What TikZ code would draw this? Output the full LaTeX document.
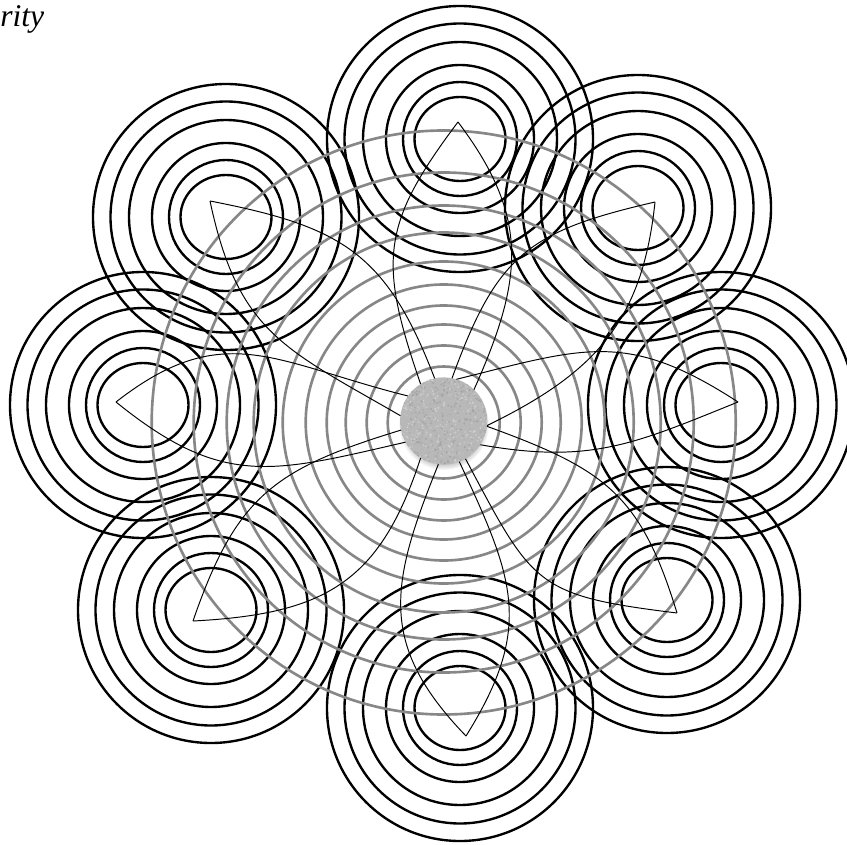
\documentclass[tikz,border=0pt]{standalone}
\usepackage{fontspec}
\setmainfont{Liberation Serif}
\usetikzlibrary{shadows,fadings}

\begin{document}
\begin{tikzpicture}[x=0.02cm,y=0.02cm,
  grp/.style={line width=1.35pt},
  ring/.style={black!47,line width=1.5pt},
  petal/.style={line width=0.55pt}]
\useasboundingbox (0,0) rectangle (847,-844);
% Title, cut off at the left
\node[anchor=base west,inner sep=0,font=\itshape\fontsize{18}{21}\selectfont] (title) at (0,-27) {rity};
% Groups of circles round each tip
\foreach \g/\x/\y in {g1/460/139, g2/638/208, g3/721/405, g4/667/600,
                      g5/460/708, g6/211/610, g7/143/405, g8/226/217} {
  \coordinate (\g) at (\x,-\y);
  \draw[grp] (\g) ellipse (45.5 and 42);
  \foreach \r in {57,74,97,115.5,133} \draw[grp] (\g) circle (\r);
}
% Grey rings round the centre
\coordinate (c) at (443.7,-422.5);
\foreach \r in {56,77,98,117,138,161,190,217,250,292} \draw[ring] (c) circle (\r);
% Tips
\coordinate (t1) at (458,-122);
\coordinate (t2) at (655,-202);
\coordinate (t3) at (738,-402);
\coordinate (t4) at (677,-613);
\coordinate (t5) at (466,-736);
\coordinate (t6) at (193,-621);
\coordinate (t7) at (116,-402);
\coordinate (t8) at (210,-201);
% Centre disc
\node[circle,inner sep=0,outer sep=0,minimum size=1.744cm,fill=black!28,
  circular drop shadow={shadow xshift=0pt,shadow yshift=-2pt,shadow scale=1.04,opacity=.45}]
  (disc) at (443.7,-421) {};
% Speckle on the disc
\pgfmathsetseed{7}
\begin{scope}
  \clip (disc.center) circle (43.6);
  \foreach \i in {1,...,700} {
    \pgfmathsetmacro{\ang}{rnd*360}
    \pgfmathsetmacro{\dd}{sqrt(rnd)*44}
    \pgfmathsetmacro{\tone}{int(18+rnd*20)}
    \fill[black!\tone] (disc.center) ++(\ang:\dd) circle (1.1);
  }
\end{scope}
% Petals
\draw[petal] (disc.122) to[out=109,in=233,looseness=1.25] (t1);
\draw[petal] (disc.46) to[out=66,in=307,looseness=1.15] (t1);
\draw[petal] (disc.79) to[out=70,in=193,looseness=1.25] (t2);
\draw[petal] (disc.-6) to[out=26,in=264,looseness=1.1] (t2);
\draw[petal] (disc.73) to[out=14,in=147,looseness=1.2] (t3);
\draw[petal] (disc.-33) to[out=-10,in=202,looseness=1.1] (t3);
\draw[petal] (disc.-7) to[out=-20,in=107,looseness=1.2] (t4);
\draw[petal] (disc.-60) to[out=-62,in=173,looseness=1.4] (t4);
\draw[petal] (disc.-69) to[out=-65,in=58,looseness=1.2] (t5);
\draw[petal] (disc.-97) to[out=-112,in=134,looseness=1.2] (t5);
\draw[petal] (disc.238) to[out=252,in=3,looseness=1.2] (t6);
\draw[petal] (disc.192) to[out=197,in=71,looseness=1.2] (t6);
\draw[petal] (disc.209) to[out=193,in=321,looseness=1.2] (t7);
\draw[petal] (disc.145) to[out=166,in=38,looseness=1.2] (t7);
\draw[petal] (disc.173) to[out=150,in=282,looseness=1.2] (t8);
\draw[petal] (disc.102) to[out=111,in=349,looseness=1.2] (t8);
\end{tikzpicture}
\end{document}
